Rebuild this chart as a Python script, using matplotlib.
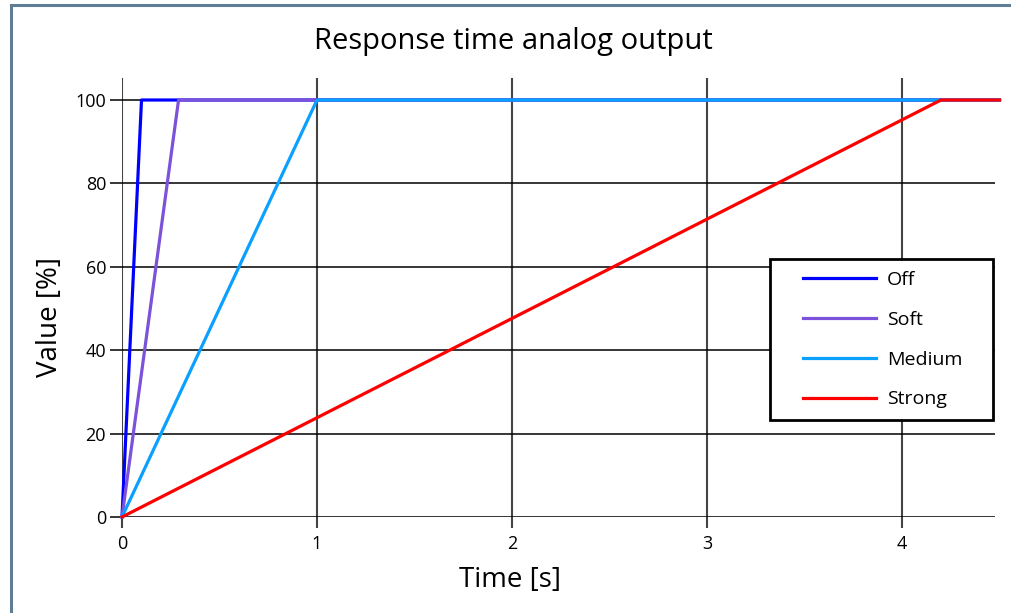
import matplotlib
matplotlib.use("Agg")
import matplotlib.pyplot as plt
from matplotlib.patches import Rectangle

plt.rcParams['font.family'] = ['Open Sans', 'DejaVu Sans']

series_names = ["Off", "Soft", "Medium", "Strong"]
ramp_end = [0.1, 0.29, 1.0, 4.2]
x_end = 4.5
values = [0, 100, 100]
colors = ["#0000ff", "#7b52d9", "#0aa0ff", "#ff0000"]
xticks = [0, 1, 2, 3, 4]
yticks = [0, 20, 40, 60, 80, 100]

W, H = 1011, 613
fig = plt.figure(figsize=(W / 100, H / 100), dpi=100)
fig.patch.set_facecolor("white")

# figure border (top and left visible)
fig.add_artist(plt.Line2D([11 / W, 11 / W], [0, 1 - 5 / H], transform=fig.transFigure,
                          color="#5f7d95", lw=2.2))
fig.add_artist(plt.Line2D([11 / W, 1], [1 - 5 / H, 1 - 5 / H], transform=fig.transFigure,
                          color="#5f7d95", lw=2.2))

left, right = 122 / W, 995 / W
bottom, top = 1 - 517 / H, 1 - 78 / H
ax = fig.add_axes([left, bottom, right - left, top - bottom])
xmax = (995 - 122) / 195
ymax = (517 - 78) / 4.17
ax.set_xlim(0, xmax)
ax.set_ylim(0, ymax)

for s in ax.spines.values():
    s.set_visible(False)

ax.set_xticks(xticks)
ax.set_yticks(yticks)
for t in xticks:
    ax.axvline(t, color="#444444", lw=1.5, zorder=1)
for t in yticks:
    ax.axhline(t, color="black", lw=1.1, zorder=1)
ax.tick_params(axis="x", length=8, width=1.5, color="#444444", labelsize=13, pad=5)
ax.tick_params(axis="y", length=8.5, width=1.1, color="black", labelsize=13, pad=3)

for name, re, c in zip(series_names, ramp_end, colors):
    ax.plot([0, re, x_end], values, color=c, lw=2.3, label=name, clip_on=False, zorder=3)

fig.text(513 / W, 1 - 42 / H, "Response time analog output", fontsize=21,
         ha="center", va="center")
fig.text(510 / W, 1 - 580 / H, "Time [s]", fontsize=20, ha="center", va="center")
fig.text(50 / W, 1 - 317 / H, "Value [%]", fontsize=20, ha="center", va="center",
         rotation=90)

# legend box
fig.add_artist(Rectangle((770 / W, 1 - 420 / H), (993 - 770) / W, (420 - 259) / H,
                         transform=fig.transFigure, facecolor="white", edgecolor="black",
                         lw=2, zorder=5))
leg = fig.legend(*ax.get_legend_handles_labels(), loc="upper left",
                 bbox_to_anchor=(803 / W, 1 - 271 / H),
                 fontsize=14, frameon=False, handlelength=3.76,
                 borderpad=0, labelspacing=1.12, handletextpad=0.57, borderaxespad=0)
leg.set_zorder(6)
for l in leg.get_lines():
    l.set_linewidth(2.3)

fig.savefig("out.png", dpi=100)
